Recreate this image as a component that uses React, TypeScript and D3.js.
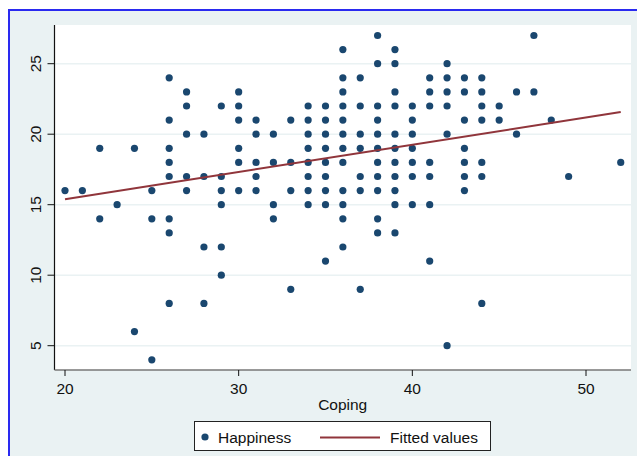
import React from "react";
import * as d3 from "d3";

// coping score levels and the happiness values seen at each level
const copingLevels = [20, 21, 22, 23, 24, 25, 26, 27, 28, 29, 30, 31, 32, 33, 34, 35, 36, 37, 38, 39, 40, 41, 42, 43, 44, 45, 46, 47, 48, 49, 52];
const happinessAtLevel = [
  [16],
  [16],
  [19, 14],
  [15],
  [19, 6],
  [16, 14, 4],
  [24, 21, 19, 18, 17, 14, 13, 8],
  [23, 22, 20, 17, 16],
  [20, 17, 12, 8],
  [22, 17, 16, 15, 12, 10],
  [23, 22, 21, 19, 18, 16],
  [21, 20, 18, 17, 16],
  [20, 18, 15, 14],
  [21, 18, 16, 9],
  [22, 21, 20, 19, 18, 17, 16, 15],
  [22, 21, 20, 19, 18, 17, 16, 15, 11],
  [26, 24, 23, 22, 21, 20, 19, 18, 16, 15, 14, 12],
  [24, 22, 20, 19, 17, 16, 9],
  [27, 25, 22, 21, 20, 19, 18, 17, 16, 14, 13],
  [26, 25, 23, 22, 20, 19, 18, 17, 16, 15, 13],
  [22, 21, 20, 19, 18, 17, 15],
  [24, 23, 22, 18, 17, 15, 11],
  [25, 24, 23, 22, 20, 5],
  [24, 23, 21, 19, 18, 17, 16],
  [24, 23, 22, 21, 18, 17, 8],
  [22, 21],
  [23, 20],
  [27, 23],
  [21],
  [17],
  [18],
];

const fittedCoping = [20, 52];
const fittedValues = [15.39, 21.57];

const xTicks = [20, 30, 40, 50];
const yTicks = [5, 10, 15, 20, 25];

const W = 637;
const H = 456;
const plot = { left: 54.5, right: 631, top: 25, bottom: 370 };
const font = "'Liberation Sans', Arial, sans-serif";
const navy = "#1a476f";
const maroon = "#90353b";
const bg = "#eaf2f3";

export default function App() {
  const x = d3.scaleLinear().domain([20, 50]).range([65, 586]);
  const y = d3.scaleLinear().domain([5, 25]).range([345.7, 63.7]);

  const points = copingLevels.flatMap((c, i) =>
    happinessAtLevel[i].map((h) => ({ c, h }))
  );

  const fit = d3
    .line<number>()
    .x((d) => x(d))
    .y((d, i) => y(fittedValues[i]));

  return (
    <svg
      width={W}
      height={H}
      style={{ position: "absolute", left: 0, top: 0, fontFamily: font }}
    >
      <rect x={0} y={0} width={W} height={H} fill="#fff" />
      <rect x={9} y={10} width={W + 20} height={H + 20} fill={bg} stroke="#2a2af0" strokeWidth={2} />
      <rect
        x={plot.left}
        y={plot.top}
        width={plot.right - plot.left}
        height={plot.bottom - plot.top}
        fill="#fff"
      />
      {yTicks.map((t) => (
        <line
          key={"g" + t}
          x1={plot.left}
          x2={plot.right}
          y1={y(t)}
          y2={y(t)}
          stroke={bg}
          strokeWidth={1.6}
        />
      ))}
      {points.map((p, i) => (
        <circle key={i} cx={x(p.c)} cy={y(p.h)} r={3.6} fill={navy} />
      ))}
      <path d={fit(fittedCoping) || ""} fill="none" stroke={maroon} strokeWidth={2} />

      {/* axes */}
      <line x1={plot.left} x2={plot.left} y1={plot.top} y2={plot.bottom} stroke="#111" strokeWidth={1.2} />
      <line x1={plot.left} x2={plot.right} y1={plot.bottom} y2={plot.bottom} stroke="#777" strokeWidth={1.4} />
      {yTicks.map((t) => (
        <g key={"y" + t}>
          <line x1={plot.left - 7} x2={plot.left} y1={y(t)} y2={y(t)} stroke="#111" strokeWidth={1} />
          <text
            transform={`translate(40.5,${y(t)}) rotate(-90)`}
            textAnchor="middle"
            fontSize={15.5}
            fill="#111"
          >
            {t}
          </text>
        </g>
      ))}
      {xTicks.map((t) => (
        <g key={"x" + t}>
          <line x1={x(t)} x2={x(t)} y1={plot.bottom} y2={plot.bottom + 6} stroke="#111" strokeWidth={1} />
          <text x={x(t)} y={394} textAnchor="middle" fontSize={15.5} fill="#111">
            {t}
          </text>
        </g>
      ))}
      <text x={342.7} y={409.5} textAnchor="middle" fontSize={15.5} fill="#111">
        Coping
      </text>

      {/* legend */}
      <rect x={194.5} y={421.5} width={296} height={29} fill="#fff" stroke="#222" strokeWidth={1} />
      <circle cx={205} cy={437} r={3.6} fill={navy} />
      <text x={218} y={442.7} fontSize={15.5} fill="#111">
        Happiness
      </text>
      <line x1={320} x2={380} y1={437.5} y2={437.5} stroke={maroon} strokeWidth={2} />
      <text x={390} y={442.7} fontSize={15.5} fill="#111">
        Fitted values
      </text>
    </svg>
  );
}
